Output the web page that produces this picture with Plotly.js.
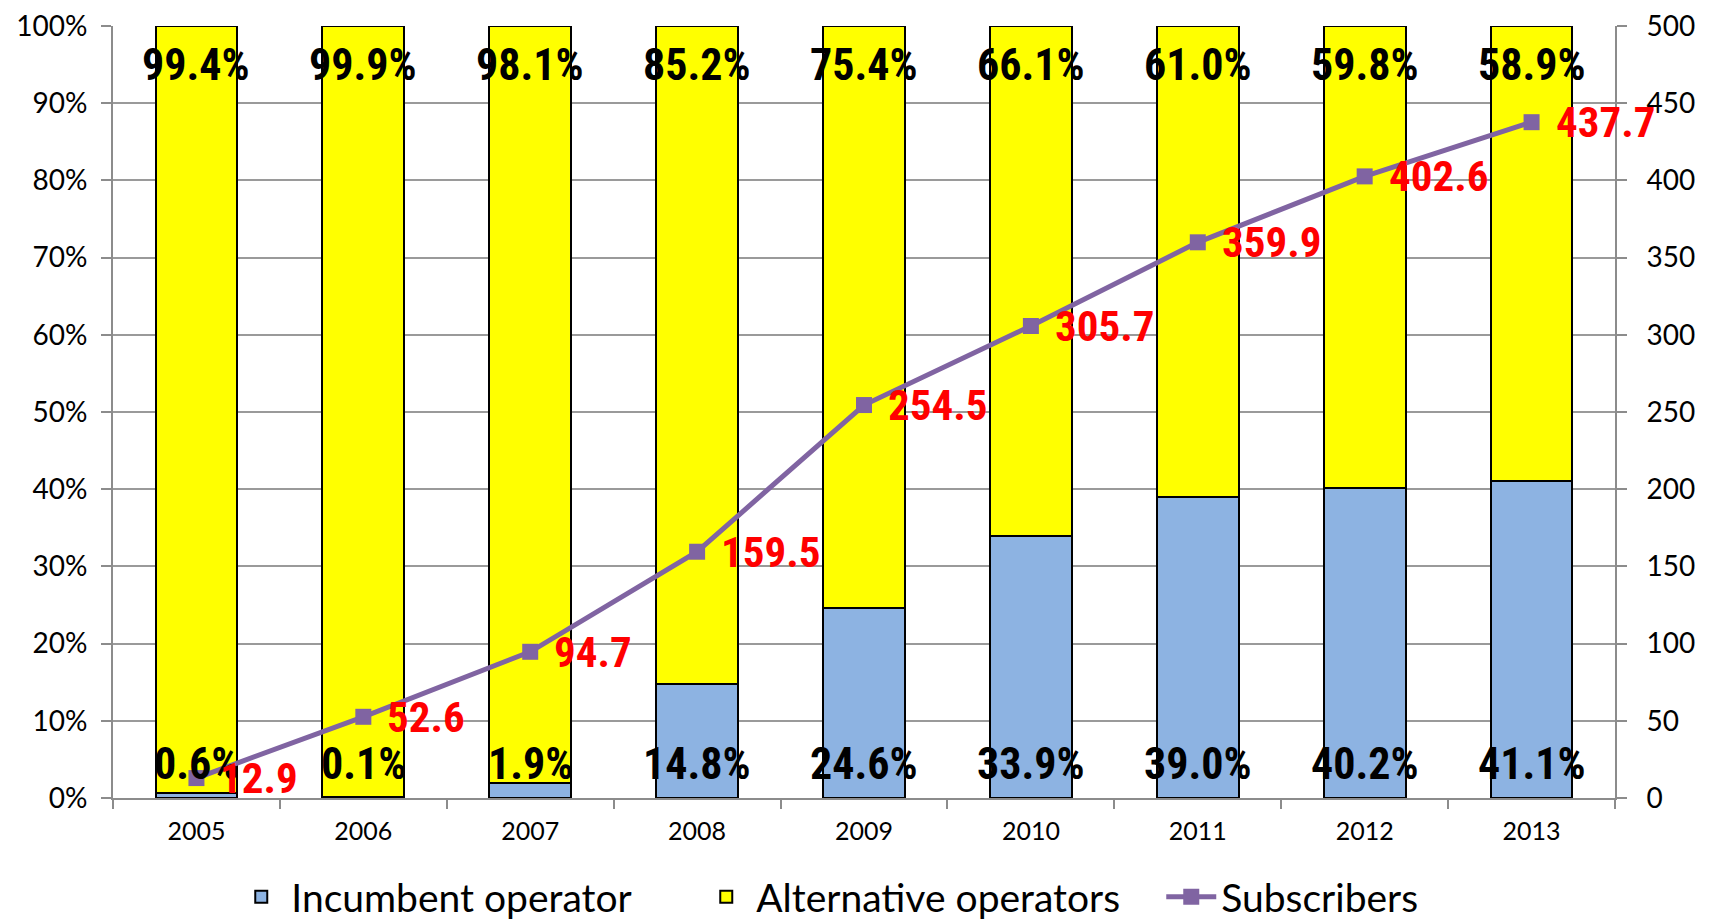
<!DOCTYPE html>
<html>
<head>
<meta charset="utf-8">
<script src="https://cdn.plot.ly/plotly-3.0.1.min.js"></script>
<style>html,body{margin:0;padding:0;background:#fff;}#chart{width:1713px;height:919px;}</style>
</head>
<body>
<div id="chart"></div>
<script>
var years = ['2005','2006','2007','2008','2009','2010','2011','2012','2013'];
var incumbent = [0.6, 0.1, 1.9, 14.8, 24.6, 33.9, 39.0, 40.2, 41.1];
var alternative = [99.4, 99.9, 98.1, 85.2, 75.4, 66.1, 61.0, 59.8, 58.9];
var subscribers = [12.9, 52.6, 94.7, 159.5, 254.5, 305.7, 359.9, 402.6, 437.7];

var narrowBold = '"Liberation Sans Narrow", "Roboto Condensed", "Arial Narrow", "Liberation Sans", sans-serif';
var tickFont = 'Lato, "Open Sans", sans-serif';

var traces = [
  {type:'bar', name:'Incumbent operator', x:years, y:incumbent,
   marker:{color:'#8DB3E2', line:{color:'#000', width:2}}, hoverinfo:'skip'},
  {type:'bar', name:'Alternative operators', x:years, y:alternative,
   marker:{color:'#FFFF00', line:{color:'#000', width:2}}, hoverinfo:'skip'},
  {type:'scatter', mode:'lines+markers', name:'Subscribers', x:years, y:subscribers, yaxis:'y2',
   line:{color:'#8064A2', width:5}, marker:{symbol:'square', size:16, color:'#8064A2'}, hoverinfo:'skip'}
];

var ann = [];
years.forEach(function(yr, i){
  ann.push({x:i, y:95, xref:'x', yref:'y', text:alternative[i].toFixed(1)+'%', showarrow:false,
    font:{family:narrowBold, size:44, color:'#000', weight:'bold'}, xanchor:'center', yanchor:'middle'});
  ann.push({x:i, y:4.4, xref:'x', yref:'y', text:incumbent[i].toFixed(1)+'%', showarrow:false,
    font:{family:narrowBold, size:44, color:'#000', weight:'bold'}, xanchor:'center', yanchor:'middle'});
  ann.push({x:i, y:subscribers[i], xref:'x', yref:'y2', text:subscribers[i].toFixed(1), showarrow:false,
    font:{family:narrowBold, size:43, color:'#FF0000', weight:'bold'}, xanchor:'left', yanchor:'middle', xshift:22});
});

var layout = {
  width:1713, height:919,
  margin:{l:113, r:98, t:26, b:121, autoexpand:false},
  paper_bgcolor:'#fff', plot_bgcolor:'#fff',
  barmode:'stack', bargap:0.51,
  showlegend:true,
  legend:{orientation:'h', xref:'container', yref:'container', x:0.135, xanchor:'left', y:0.024, yanchor:'middle',
    entrywidth:400, entrywidthmode:'pixels', itemwidth:50,
    font:{family:tickFont, size:39, color:'#000'}, traceorder:'normal'},
  xaxis:{type:'category', range:[-0.5, 8.5], showgrid:false, showline:true, linecolor:'#8c8c8c', linewidth:2,
    ticks:'outside', tickson:'boundaries', ticklen:9, tickcolor:'#8c8c8c', tickwidth:2, automargin:false,
    tickfont:{family:tickFont, size:25, color:'#000'}, ticklabelstandoff:10, zeroline:false},
  yaxis:{range:[0,100], dtick:10, tick0:0, ticksuffix:'%', automargin:false,
    showgrid:true, gridcolor:'#9a9a9a', gridwidth:2, showline:true, linecolor:'#8c8c8c', linewidth:2,
    ticks:'outside', ticklen:10, tickcolor:'#8c8c8c', tickwidth:2, zeroline:false,
    tickfont:{family:tickFont, size:28, color:'#000'}, ticklabelstandoff:8},
  yaxis2:{range:[0,500], dtick:50, tick0:0, overlaying:'y', side:'right', automargin:false,
    showgrid:false, showline:true, linecolor:'#8c8c8c', linewidth:2,
    ticks:'outside', ticklen:10, tickcolor:'#8c8c8c', tickwidth:2, zeroline:false,
    tickfont:{family:tickFont, size:28, color:'#000'}, ticklabelstandoff:14},
  annotations:ann
};

Plotly.newPlot('chart', traces, layout, {displayModeBar:false, staticPlot:true});
</script>
</body>
</html>
